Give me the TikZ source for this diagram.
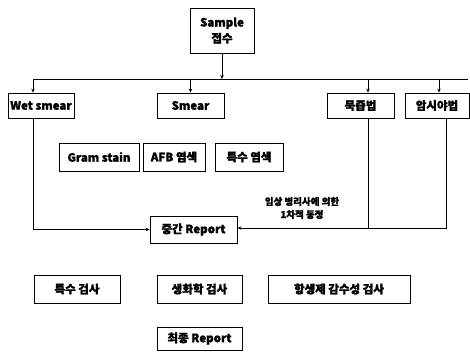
\documentclass[tikz,border=0pt]{standalone}
\usepackage{fontspec}
\setmainfont{Noto Sans CJK KR}[BoldFeatures={FakeBold=1.5}]
\usetikzlibrary{arrows.meta}
\begin{document}
\begin{tikzpicture}[x=1pt,y=-1pt,
  box/.style={draw=black,line width=0.8pt,inner sep=0pt,font=\fontsize{11.5}{14}\selectfont\bfseries,align=center},
  conn/.style={draw=black,line width=0.8pt},
  arr/.style={conn,-{Stealth[length=4pt,width=3.5pt]}},
  note/.style={font=\fontsize{9.5}{11}\selectfont\bfseries,inner sep=0pt}]
\useasboundingbox (0,0) rectangle (470,353);
\node[box,minimum width=64pt,minimum height=45pt] (sample) at (222,30.5) {Sample\\[2pt]접수};
\node[box,minimum width=66pt,minimum height=25pt] (wet) at (41,105.5) {Wet smear};
\node[box,minimum width=67pt,minimum height=25pt] (smear) at (190.5,105.5) {Smear};
\node[box,minimum width=67pt,minimum height=25pt] (muk) at (360.5,105.5) {묵즙법};
\node[box,minimum width=64pt,minimum height=25pt] (dark) at (437,105.5) {암시야법};
\node[box,minimum width=80pt,minimum height=28pt] (gram) at (99,157) {Gram stain};
\node[box,minimum width=62pt,minimum height=28pt] (afb) at (174,157) {AFB 염색};
\node[box,minimum width=68pt,minimum height=28pt] (special) at (249,157) {특수 염색};
\node[box,minimum width=87pt,minimum height=27pt] (mid) at (193.5,229.5) {중간 Report};
\node[note,align=center] (note) at (302,208) {임상 병리사에 의한\\[2pt]1차적 동정};
\node[box,minimum width=86pt,minimum height=28pt] (sptest) at (77,289) {특수 검사};
\node[box,minimum width=85pt,minimum height=28pt] (bio) at (199.5,289) {생화학 검사};
\node[box,minimum width=142pt,minimum height=28pt] (anti) at (339,289) {항생제 감수성 검사};
\node[box,minimum width=85pt,minimum height=23pt] (final) at (199.5,338.5) {최종 Report};
% bus
\coordinate (busL) at (33,79);
\coordinate (busR) at (468,79);
\coordinate (mukx) at (368,79);
\coordinate (darkx) at (439,79);
\coordinate (darkd) at (446,118);
\coordinate (low) at (446,228);
\draw[conn] (busL) -- (busR);
\draw[arr] (sample.south) -- (sample.south |- busL);
\draw[arr] (busL) -- (busL |- wet.north);
\draw[arr] (smear.north |- busL) -- (smear.north);
\draw[arr] (mukx) -- (mukx |- muk.north);
\draw[arr] (darkx) -- (darkx |- dark.north);
% to mid report
\draw[arr] (busL |- wet.south) -- (busL |- mid.west) -- (mid.west);
\draw[conn] (mukx |- muk.south) -- (mukx |- low);
\draw[arr] (darkd) -- (low) -- (mid.east |- low);
\end{tikzpicture}
\end{document}
